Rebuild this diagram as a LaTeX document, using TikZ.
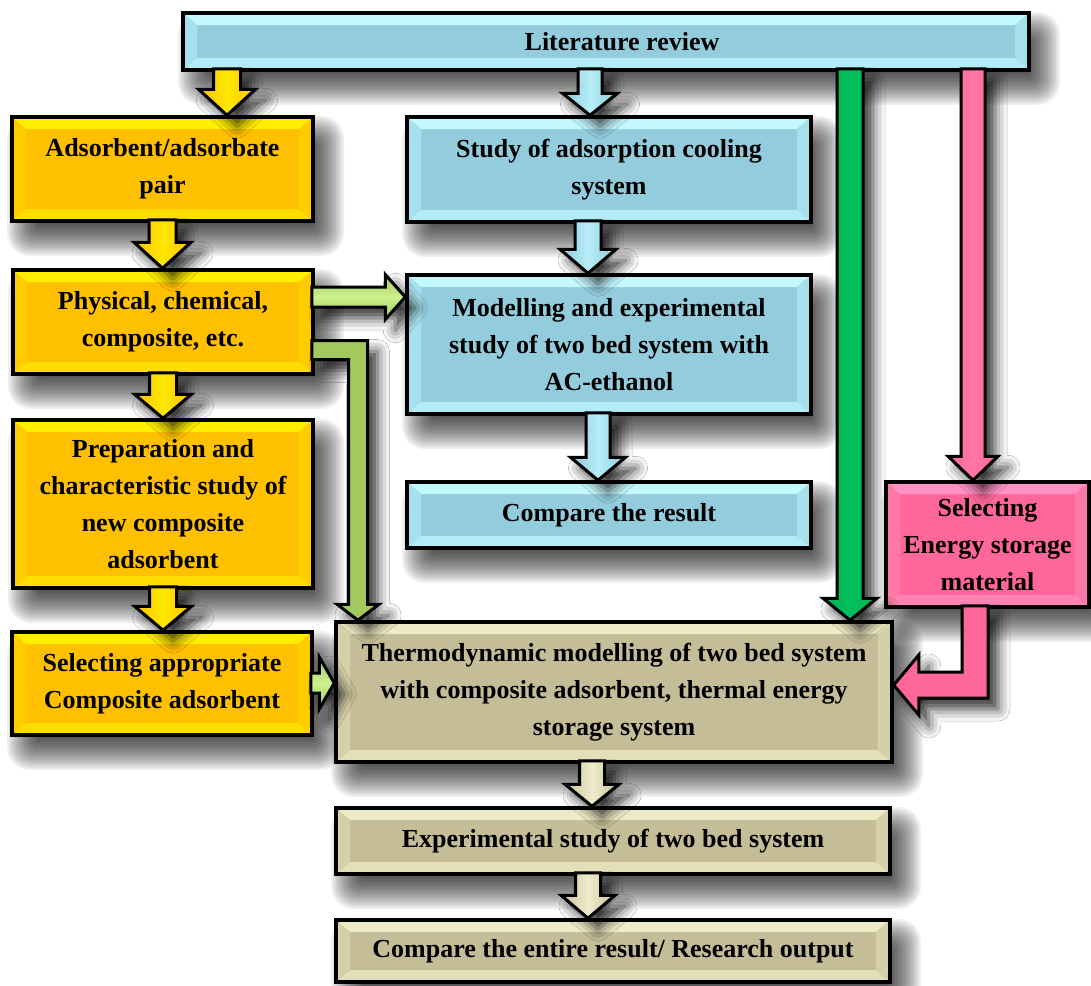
\documentclass[tikz,border=0pt]{standalone}
\usepackage{fontspec}
\setmainfont{Liberation Serif}
\usetikzlibrary{calc,shadows.blur}

% box palettes: top strip, bottom strip, side strips, face
\definecolor{yTop}{HTML}{FFEE00}
\definecolor{yBot}{HTML}{FFDD00}
\definecolor{ySide}{HTML}{FFCC00}
\definecolor{yBase}{HTML}{FFC000}
\definecolor{bTop}{HTML}{C4F8FF}
\definecolor{bBot}{HTML}{B2ECF6}
\definecolor{bSide}{HTML}{A6E0EC}
\definecolor{bBase}{HTML}{93CDDD}
\definecolor{pTop}{HTML}{FF92C2}
\definecolor{pBot}{HTML}{FF84B4}
\definecolor{pSide}{HTML}{FF78A8}
\definecolor{pBase}{HTML}{FF6699}
\definecolor{tTop}{HTML}{EEEAC6}
\definecolor{tBot}{HTML}{E4DFB8}
\definecolor{tSide}{HTML}{D6D0A9}
\definecolor{tBase}{HTML}{C4BD97}
% arrow colours
\definecolor{aY}{HTML}{FFC000}
\definecolor{aYl}{HTML}{FFE800}
\definecolor{aB}{HTML}{8CC8DA}
\definecolor{aBl}{HTML}{B8EEF8}
\definecolor{aLG}{HTML}{A3C95E}
\definecolor{aLGl}{HTML}{CCF08E}
\definecolor{aG}{HTML}{00B050}
\definecolor{aGl}{HTML}{00C05C}
\definecolor{aP}{HTML}{FF6699}
\definecolor{aPl}{HTML}{FF77A6}
\definecolor{aT}{HTML}{C8C19C}
\definecolor{aTl}{HTML}{EFEBCB}

\newcommand{\boxfont}{\bfseries\fontsize{26}{37}\selectfont}
\def\bvx{14pt}
\def\bvy{12pt}

% bevelled face painted inside a box node
\newcommand{\bevelfill}[4]{%
  \fill[#4] (path picture bounding box.north west) rectangle (path picture bounding box.south east);
  \fill[#1] let \p1=(path picture bounding box.north west), \p2=(path picture bounding box.south east) in
    (\x1,\y1) -- (\x2,\y1) -- (\x2-\bvx,\y1-\bvy) -- (\x1+\bvx,\y1-\bvy) -- cycle;
  \fill[#2] let \p1=(path picture bounding box.north west), \p2=(path picture bounding box.south east) in
    (\x1,\y2) -- (\x2,\y2) -- (\x2-\bvx,\y2+\bvy) -- (\x1+\bvx,\y2+\bvy) -- cycle;
  \fill[#3] let \p1=(path picture bounding box.north west), \p2=(path picture bounding box.south east) in
    (\x1,\y1) -- (\x1+\bvx,\y1-\bvy) -- (\x1+\bvx,\y2+\bvy) -- (\x1,\y2) -- cycle;
  \fill[#3] let \p1=(path picture bounding box.north west), \p2=(path picture bounding box.south east) in
    (\x2,\y1) -- (\x2-\bvx,\y1-\bvy) -- (\x2-\bvx,\y2+\bvy) -- (\x2,\y2) -- cycle;
}

\tikzset{
  box/.style={rectangle, draw=black, line width=3.5pt, align=center, inner sep=0pt, font=\boxfont},
  softshade/.style={black, opacity=0.06},
  yelbox/.style={box, path picture={\bevelfill{yTop}{yBot}{ySide}{yBase}}},
  bluebox/.style={box, path picture={\bevelfill{bTop}{bBot}{bSide}{bBase}}},
  pinkbox/.style={box, path picture={\bevelfill{pTop}{pBot}{pSide}{pBase}}},
  tanbox/.style={box, path picture={\bevelfill{tTop}{tBot}{tSide}{tBase}}},
  blockarr/.style={draw=black, line width=3pt, line join=miter,
    blur shadow={shadow xshift=10pt, shadow yshift=-11pt, shadow blur radius=12pt, shadow opacity=80}},
  arrY/.style={blockarr, left color=aY, right color=aY, middle color=aYl},
  arrB/.style={blockarr, left color=aB, right color=aB, middle color=aBl},
  arrT/.style={blockarr, left color=aT, right color=aT, middle color=aTl},
  arrG/.style={blockarr, left color=aG, right color=aG, middle color=aGl},
  arrP/.style={blockarr, left color=aP, right color=aP, middle color=aPl},
  arrPL/.style={blockarr, fill=aP},
  arrLG/.style={blockarr, top color=aLG, bottom color=aLG, middle color=aLGl},
  arrLGL/.style={blockarr, fill=aLG},
}

% box from corner (x1,y1) to (x2,y2), with a soft shadow to the lower right
\newcommand{\flowbox}[7]{%
  \foreach \d in {-16,-14,...,18}{%
    \pgfmathsetmacro\rr{max(0.5,(\d+16)/1.5)}%
    \fill[softshade, rounded corners=\rr pt] ({#2+13-\d},{#3+17-\d}) rectangle ({#4+13+\d},{#5+17+\d});
  }
  \node[#6, minimum width={#4-#2}, minimum height={#5-#3}] (#1) at ({(#2+#4)/2},{(#3+#5)/2}) {#7};}

% block arrows: style, shaft half width, head half width, head length, start, tip
\newcommand{\downblock}[6]{%
  \draw[#1] let \p1=#5, \p2=#6 in
    (\x1-#2pt,\y1+3pt) -- (\x1-#2pt,\y2+#4pt) -- (\x1-#3pt,\y2+#4pt) -- (\x1,\y2)
    -- (\x1+#3pt,\y2+#4pt) -- (\x1+#2pt,\y2+#4pt) -- (\x1+#2pt,\y1+3pt) -- cycle;}
\newcommand{\rightblock}[6]{%
  \draw[#1] let \p1=#5, \p2=#6 in
    (\x1-3pt,\y1+#2pt) -- (\x2-#4pt,\y1+#2pt) -- (\x2-#4pt,\y1+#3pt) -- (\x2,\y1)
    -- (\x2-#4pt,\y1-#3pt) -- (\x2-#4pt,\y1-#2pt) -- (\x1-3pt,\y1-#2pt) -- cycle;}
% right, then down
\newcommand{\rightdownblock}[6]{%
  \draw[#1] let \p1=#5, \p2=#6 in
    (\x1-3pt,\y1+#2pt) -- (\x2+#2pt,\y1+#2pt) -- (\x2+#2pt,\y2+#4pt) -- (\x2+#3pt,\y2+#4pt)
    -- (\x2,\y2) -- (\x2-#3pt,\y2+#4pt) -- (\x2-#2pt,\y2+#4pt) -- (\x2-#2pt,\y1-#2pt)
    -- (\x1-3pt,\y1-#2pt) -- cycle;}
% down, then left
\newcommand{\downleftblock}[6]{%
  \draw[#1] let \p1=#5, \p2=#6 in
    (\x1-#2pt,\y1+3pt) -- (\x1+#2pt,\y1+3pt) -- (\x1+#2pt,\y2-#2pt) -- (\x2+#4pt,\y2-#2pt)
    -- (\x2+#4pt,\y2-#3pt) -- (\x2,\y2) -- (\x2+#4pt,\y2+#3pt) -- (\x2+#4pt,\y2+#2pt)
    -- (\x1-#2pt,\y2+#2pt) -- cycle;}

\begin{document}
\begin{tikzpicture}[x=1pt, y=-1pt]
\useasboundingbox (0,0) rectangle (1091,985);
\fill[white] (0,0) rectangle (1091,985);

% boxes
\flowbox{lit}{183}{13}{1029}{70}{bluebox}{\hspace*{32pt}Literature review}
\flowbox{ads}{12}{117}{313}{221}{yelbox}{Adsorbent/adsorbate\\pair}
\flowbox{study}{407}{117}{811}{222}{bluebox}{Study of adsorption cooling\\system}
\flowbox{phys}{13}{270}{313}{374}{yelbox}{Physical, chemical,\\composite, etc.}
\flowbox{model}{407}{275}{811}{414}{bluebox}{Modelling and experimental\\study of two bed system with\\AC-ethanol}
\flowbox{prep}{13}{420}{313}{588}{yelbox}{Preparation and\\characteristic study of\\new composite\\adsorbent}
\flowbox{cmp}{407}{482}{811}{548}{bluebox}{Compare the result}
\flowbox{esm}{886}{482}{1089}{607}{pinkbox}{Selecting\\Energy storage\\material}
\flowbox{sel}{12}{632}{312}{735}{yelbox}{Selecting appropriate\\Composite adsorbent}
\flowbox{thermo}{336}{622}{892}{762}{tanbox}{Thermodynamic modelling of two bed system\\with composite adsorbent, thermal energy\\storage system}
\flowbox{exp}{336}{808}{890}{874}{tanbox}{Experimental study of two bed system}
\flowbox{out}{336}{920}{890}{982}{tanbox}{Compare the entire result/ Research output}

% arrow lanes
\coordinate (xLitAds) at (227,0);
\coordinate (xLitStudy) at (590,0);
\coordinate (xStudyMod) at (588,0);
\coordinate (xModCmp) at (598,0);
\coordinate (xGreen) at (850,0);
\coordinate (xPink) at (973,0);
\coordinate (yPhysMod) at (0,297);
\coordinate (yPhysTh) at (0,350);
\coordinate (xPhysTh) at (358,0);
\coordinate (ySelTh) at (0,683);
\coordinate (xEsm) at (975,0);
\coordinate (yEsm) at (0,685);
\coordinate (xThExp) at (592,0);
\coordinate (xExpOut) at (588,0);

% yellow column
\downblock{arrY}{13.5}{28.5}{26}{(lit.south -| xLitAds)}{(ads.north -| xLitAds)}
\downblock{arrY}{13.5}{28.5}{26}{(ads.south)}{(phys.north)}
\downblock{arrY}{13.5}{28.5}{24}{(phys.south)}{(prep.north)}
\downblock{arrY}{13.5}{28.5}{24}{(prep.south)}{(sel.north)}

% blue column
\downblock{arrB}{12}{27.5}{22}{(lit.south -| xLitStudy)}{(study.north -| xLitStudy)}
\downblock{arrB}{13}{28}{24}{(study.south -| xStudyMod)}{(model.north -| xStudyMod)}
\downblock{arrB}{12}{27.5}{23}{(model.south -| xModCmp)}{(cmp.north -| xModCmp)}

% long arrows from the review
\downblock{arrG}{13}{27}{22}{(lit.south -| xGreen)}{(thermo.north -| xGreen)}
\downblock{arrP}{12}{25}{24}{(lit.south -| xPink)}{(esm.north -| xPink)}

% light green links
\rightblock{arrLG}{10}{22.5}{20}{(phys.east |- yPhysMod)}{(model.west |- yPhysMod)}
\rightdownblock{arrLGL}{9.5}{21}{16}{(phys.east |- yPhysTh)}{(thermo.north -| xPhysTh)}
\rightblock{arrLG}{10}{26}{15}{(sel.east |- ySelTh)}{(thermo.west |- ySelTh)}

% storage material into the model
\downleftblock{arrPL}{13}{30}{25}{(esm.south -| xEsm)}{(thermo.east |- yEsm)}

% tan column
\downblock{arrT}{12.5}{27}{22}{(thermo.south -| xThExp)}{(exp.north -| xThExp)}
\downblock{arrT}{12.5}{27}{23}{(exp.south -| xExpOut)}{(out.north -| xExpOut)}
\end{tikzpicture}
\end{document}
